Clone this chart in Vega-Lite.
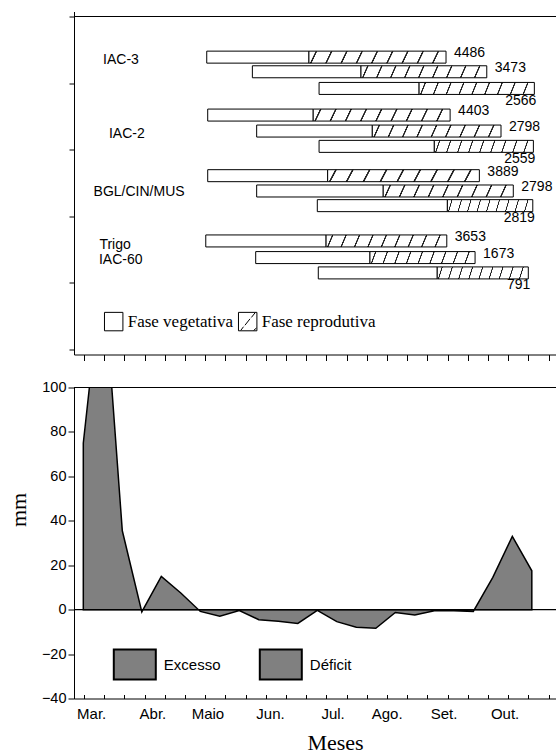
{
  "$schema": "https://vega.github.io/schema/vega-lite/v6.json",
  "background": "white",
  "padding": {"left": 7, "top": 11.5, "right": 0, "bottom": 0},
  "config": {
    "view": {"stroke": null},
    "axis": {"grid": false, "domainColor": "black", "tickColor": "black", "labelColor": "black", "titleColor": "black", "labelFont": "Liberation Sans", "titleFont": "Liberation Serif", "titleFontWeight": "normal"}
  },
  "spacing": 33,
  "bounds": "flush",
  "resolve": {"scale": {"shape": "independent", "fill": "independent", "x": "independent", "y": "independent"}, "legend": {"shape": "independent", "fill": "independent"}},
  "vconcat": [
    {
      "width": 482,
      "height": 343,
      "data": {"values": [
        {"cultivar": "IAC-3", "epoca": 1, "fase": "Fase vegetativa", "ini": 7.33, "fim": 12.57, "pos": 4.39, "prod": 4486},
        {"cultivar": "IAC-3", "epoca": 1, "fase": "Fase reprodutiva", "ini": 12.57, "fim": 19.6, "pos": 4.39, "prod": 4486},
        {"cultivar": "IAC-3", "epoca": 2, "fase": "Fase vegetativa", "ini": 9.67, "fim": 15.24, "pos": 4.17, "prod": 3473},
        {"cultivar": "IAC-3", "epoca": 2, "fase": "Fase reprodutiva", "ini": 15.24, "fim": 21.69, "pos": 4.17, "prod": 3473},
        {"cultivar": "IAC-3", "epoca": 3, "fase": "Fase vegetativa", "ini": 13.09, "fim": 18.22, "pos": 3.92, "prod": 2566},
        {"cultivar": "IAC-3", "epoca": 3, "fase": "Fase reprodutiva", "ini": 18.22, "fim": 24.13, "pos": 3.92, "prod": 2566},
        {"cultivar": "IAC-2", "epoca": 1, "fase": "Fase vegetativa", "ini": 7.38, "fim": 12.79, "pos": 3.52, "prod": 4403},
        {"cultivar": "IAC-2", "epoca": 1, "fase": "Fase reprodutiva", "ini": 12.79, "fim": 19.81, "pos": 3.52, "prod": 4403},
        {"cultivar": "IAC-2", "epoca": 2, "fase": "Fase vegetativa", "ini": 9.89, "fim": 15.82, "pos": 3.28, "prod": 2798},
        {"cultivar": "IAC-2", "epoca": 2, "fase": "Fase reprodutiva", "ini": 15.82, "fim": 22.42, "pos": 3.28, "prod": 2798},
        {"cultivar": "IAC-2", "epoca": 3, "fase": "Fase vegetativa", "ini": 13.09, "fim": 19.0, "pos": 3.05, "prod": 2559},
        {"cultivar": "IAC-2", "epoca": 3, "fase": "Fase reprodutiva", "ini": 19.0, "fim": 24.08, "pos": 3.05, "prod": 2559},
        {"cultivar": "BGL/CIN/MUS", "epoca": 1, "fase": "Fase vegetativa", "ini": 7.38, "fim": 13.53, "pos": 2.61, "prod": 3889},
        {"cultivar": "BGL/CIN/MUS", "epoca": 1, "fase": "Fase reprodutiva", "ini": 13.53, "fim": 21.31, "pos": 2.61, "prod": 3889},
        {"cultivar": "BGL/CIN/MUS", "epoca": 2, "fase": "Fase vegetativa", "ini": 9.89, "fim": 16.38, "pos": 2.38, "prod": 2798},
        {"cultivar": "BGL/CIN/MUS", "epoca": 2, "fase": "Fase reprodutiva", "ini": 16.38, "fim": 23.05, "pos": 2.38, "prod": 2798},
        {"cultivar": "BGL/CIN/MUS", "epoca": 3, "fase": "Fase vegetativa", "ini": 13.0, "fim": 19.67, "pos": 2.16, "prod": 2819},
        {"cultivar": "BGL/CIN/MUS", "epoca": 3, "fase": "Fase reprodutiva", "ini": 19.67, "fim": 24.05, "pos": 2.16, "prod": 2819},
        {"cultivar": "Trigo IAC-60", "epoca": 1, "fase": "Fase vegetativa", "ini": 7.28, "fim": 13.45, "pos": 1.63, "prod": 3653},
        {"cultivar": "Trigo IAC-60", "epoca": 1, "fase": "Fase reprodutiva", "ini": 13.45, "fim": 19.64, "pos": 1.63, "prod": 3653},
        {"cultivar": "Trigo IAC-60", "epoca": 2, "fase": "Fase vegetativa", "ini": 9.84, "fim": 15.7, "pos": 1.38, "prod": 1673},
        {"cultivar": "Trigo IAC-60", "epoca": 2, "fase": "Fase reprodutiva", "ini": 15.7, "fim": 21.09, "pos": 1.38, "prod": 1673},
        {"cultivar": "Trigo IAC-60", "epoca": 3, "fase": "Fase vegetativa", "ini": 13.05, "fim": 19.15, "pos": 1.15, "prod": 791},
        {"cultivar": "Trigo IAC-60", "epoca": 3, "fase": "Fase reprodutiva", "ini": 19.15, "fim": 23.82, "pos": 1.15, "prod": 791}
      ]},
      "layer": [
        {
          "data": {"values": [
            {"rotulo": "IAC-3", "lx": 2.93, "ly": 4.35},
            {"rotulo": "IAC-2", "lx": 3.23, "ly": 3.23},
            {"rotulo": "BGL/CIN/MUS", "lx": 3.86, "ly": 2.36},
            {"rotulo": "Trigo", "lx": 2.63, "ly": 1.57},
            {"rotulo": "IAC-60", "lx": 2.92, "ly": 1.34}
          ]},
          "mark": {"type": "text", "align": "center", "baseline": "middle", "font": "Liberation Sans", "fontSize": 14, "color": "black"},
          "encoding": {
            "x": {"field": "lx", "type": "quantitative", "scale": {"domain": [0.523, 25.24], "nice": false, "zero": false},
              "axis": {"values": [1.036, 2.072, 3.108, 4.144, 5.18, 6.216, 7.252, 8.288, 9.324, 10.36, 11.396, 12.432, 13.468, 14.504, 15.54, 16.576, 17.612, 18.648, 19.684, 20.72, 21.756, 22.792, 23.828, 24.864], "orient": "bottom", "zindex": 1, "tickCount": 100, "ticks": true, "tickOpacity": 1, "tickWidth": 1, "tickColor": "black", "labels": true, "labelExpr": "''", "labelPadding": 0, "tickSize": 6, "title": null}},
            "y": {"field": "ly", "type": "quantitative", "scale": {"domain": [0, 5], "nice": false, "zero": false},
              "axis": {"values": [0, 1, 2, 3, 4, 5], "tickCount": 100, "labels": false, "tickSize": 5, "title": null}},
            "text": {"field": "rotulo", "type": "nominal"}
          }
        },
        {
          "transform": [{"filter": "datum.fase === 'Fase vegetativa'"}],
          "mark": {"type": "bar", "size": 12, "stroke": "black", "strokeWidth": 1, "fill": "white"},
          "encoding": {
            "x": {"field": "ini", "type": "quantitative"},
            "x2": {"field": "fim"},
            "y": {"field": "pos", "type": "quantitative"}
          }
        },
        {
          "transform": [{"filter": "datum.fase === 'Fase reprodutiva'"}],
          "mark": {"type": "bar", "size": 12, "stroke": "black", "strokeWidth": 1,
            "fill": {"gradient": "linear", "x1": 0, "y1": 0, "x2": 1, "y2": 0.042, "stops": [
                {"offset": 0, "color": "white"},
                {"offset": 0.047, "color": "white"}, {"offset": 0.051, "color": "#222"}, {"offset": 0.059, "color": "#222"}, {"offset": 0.063, "color": "white"},
                {"offset": 0.158, "color": "white"}, {"offset": 0.162, "color": "#222"}, {"offset": 0.170, "color": "#222"}, {"offset": 0.174, "color": "white"},
                {"offset": 0.269, "color": "white"}, {"offset": 0.273, "color": "#222"}, {"offset": 0.281, "color": "#222"}, {"offset": 0.285, "color": "white"},
                {"offset": 0.380, "color": "white"}, {"offset": 0.384, "color": "#222"}, {"offset": 0.392, "color": "#222"}, {"offset": 0.396, "color": "white"},
                {"offset": 0.491, "color": "white"}, {"offset": 0.495, "color": "#222"}, {"offset": 0.503, "color": "#222"}, {"offset": 0.507, "color": "white"},
                {"offset": 0.602, "color": "white"}, {"offset": 0.606, "color": "#222"}, {"offset": 0.614, "color": "#222"}, {"offset": 0.618, "color": "white"},
                {"offset": 0.713, "color": "white"}, {"offset": 0.717, "color": "#222"}, {"offset": 0.725, "color": "#222"}, {"offset": 0.729, "color": "white"},
                {"offset": 0.824, "color": "white"}, {"offset": 0.828, "color": "#222"}, {"offset": 0.836, "color": "#222"}, {"offset": 0.840, "color": "white"},
                {"offset": 0.935, "color": "white"}, {"offset": 0.939, "color": "#222"}, {"offset": 0.947, "color": "#222"}, {"offset": 0.951, "color": "white"},
                {"offset": 1, "color": "white"}]}},
          "encoding": {
            "x": {"field": "ini", "type": "quantitative"},
            "x2": {"field": "fim"},
            "y": {"field": "pos", "type": "quantitative"}
          }
        },
        {
          "mark": {"type": "point", "opacity": 0},
          "encoding": {
            "x": {"field": "ini", "type": "quantitative"},
            "y": {"field": "pos", "type": "quantitative"},
            "shape": {"field": "fase", "type": "nominal",
              "scale": {"domain": ["Fase vegetativa", "Fase reprodutiva"], "range": ["M-1,-1H1V1H-1Z", "M-1,-1H1V1H-1Z M-0.75,0.95L-0.45,0.55 M-0.3,0.4L0.25,-0.3 M0.4,-0.45L0.8,-0.95 M0.65,0.95L0.95,0.7"]},
              "legend": {"orient": "none", "legendX": 29.7, "legendY": 299.7, "direction": "horizontal", "columns": 2, "columnPadding": 2, "title": null, "padding": 0,
                "symbolSize": 340, "symbolStrokeColor": "black", "symbolFillColor": "white", "symbolStrokeWidth": 1, "symbolOpacity": 1,
                "labelFont": "Liberation Serif", "labelFontSize": 17, "labelColor": "black", "labelOffset": 4, "labelLimit": 0}}
          }
        },
        {
          "transform": [{"filter": "datum.fase === 'Fase reprodutiva' && datum.epoca < 3"}],
          "mark": {"type": "text", "align": "left", "baseline": "middle", "dx": 8, "dy": -4, "font": "Liberation Sans", "fontSize": 14, "color": "black"},
          "encoding": {
            "x": {"field": "fim", "type": "quantitative"},
            "y": {"field": "pos", "type": "quantitative"},
            "text": {"field": "prod", "type": "nominal"}
          }
        },
        {
          "transform": [{"filter": "datum.fase === 'Fase reprodutiva' && datum.epoca == 3"}],
          "mark": {"type": "text", "align": "right", "baseline": "middle", "dx": 2, "dy": 12.5, "font": "Liberation Sans", "fontSize": 14, "color": "black"},
          "encoding": {
            "x": {"field": "fim", "type": "quantitative"},
            "y": {"field": "pos", "type": "quantitative"},
            "text": {"field": "prod", "type": "nominal"}
          }
        },
        {
          "data": {"values": [{}]},
          "mark": {"type": "rule", "color": "black", "strokeWidth": 1},
          "encoding": {"y": {"datum": 5}}
        }
      ]
    },
    {
      "width": 482,
      "height": 311,
      "data": {"values": [
        {"d": 1, "mm": 75, "tipo": "Excesso"},
        {"d": 2, "mm": 155, "tipo": "Excesso"},
        {"d": 3, "mm": 35.5, "tipo": "Excesso"},
        {"d": 4, "mm": -1, "tipo": "Déficit"},
        {"d": 5, "mm": 15, "tipo": "Excesso"},
        {"d": 6, "mm": 7.5, "tipo": "Excesso"},
        {"d": 7, "mm": -0.8, "tipo": "Déficit"},
        {"d": 8, "mm": -3, "tipo": "Déficit"},
        {"d": 9, "mm": -0.4, "tipo": "Déficit"},
        {"d": 10, "mm": -4.5, "tipo": "Déficit"},
        {"d": 11, "mm": -5.2, "tipo": "Déficit"},
        {"d": 12, "mm": -6.2, "tipo": "Déficit"},
        {"d": 13, "mm": -0.3, "tipo": "Déficit"},
        {"d": 14, "mm": -5.4, "tipo": "Déficit"},
        {"d": 15, "mm": -7.9, "tipo": "Déficit"},
        {"d": 16, "mm": -8.4, "tipo": "Déficit"},
        {"d": 17, "mm": -1.3, "tipo": "Déficit"},
        {"d": 18, "mm": -2.4, "tipo": "Déficit"},
        {"d": 19, "mm": -0.5, "tipo": "Déficit"},
        {"d": 20, "mm": -0.5, "tipo": "Déficit"},
        {"d": 21, "mm": -0.8, "tipo": "Déficit"},
        {"d": 22, "mm": 14.5, "tipo": "Excesso"},
        {"d": 23, "mm": 33, "tipo": "Excesso"},
        {"d": 24, "mm": 17.5, "tipo": "Excesso"}
      ]},
      "layer": [
        {
          "mark": {"type": "area", "fill": "#808080", "stroke": "black", "strokeWidth": 1.5, "strokeJoin": "miter", "clip": true},
          "encoding": {
            "x": {"field": "d", "type": "quantitative", "scale": {"domain": [0.523, 25.24], "nice": false, "zero": false},
              "axis": {
                "values": [1.036, 2.072, 3.108, 4.144, 5.18, 6.216, 7.252, 8.288, 9.324, 10.36, 11.396, 12.432, 13.468, 14.504, 15.54, 16.576, 17.612, 18.648, 19.684, 20.72, 21.756, 22.792, 23.828, 24.864],
                "zindex": 1, "tickCount": 100, "ticks": true, "tickOpacity": 1, "tickWidth": 1, "tickColor": "black", "tickSize": -4, "labels": false,
                "title": "Meses", "titleFontSize": 22, "titleX": 261, "titleY": 51, "titleBaseline": "alphabetic", "titleAlign": "center"
              }},
            "y": {"field": "mm", "type": "quantitative", "stack": null, "scale": {"domain": [-40, 100], "nice": false},
              "axis": {
                "values": [-40, -20, 0, 20, 40, 60, 80, 100], "tickCount": 100, "tickSize": 6, "labelFontSize": 14.5, "labelPadding": 2,
                "title": "mm", "titleFontSize": 22, "titleAngle": -90, "titleX": -49, "titleY": 122, "titleBaseline": "alphabetic", "titleAlign": "center"
              }}
          }
        },
        {
          "mark": {"type": "point", "opacity": 0, "filled": true},
          "encoding": {
            "x": {"field": "d", "type": "quantitative"},
            "y": {"field": "mm", "type": "quantitative"},
            "fill": {"field": "tipo", "type": "nominal",
              "scale": {"domain": ["Excesso", "Déficit"], "range": ["#808080", "#808080"]},
              "legend": {"orient": "none", "legendX": 44.8, "legendY": 261, "direction": "horizontal", "columns": 2, "columnPadding": 35, "title": null, "padding": 0,
                "symbolType": "M-1.4,-1H1.4V1H-1.4Z", "symbolSize": 900, "symbolOpacity": 1, "symbolStrokeColor": "black", "symbolStrokeWidth": 2,
                "labelOffset": 13, "labelFont": "Liberation Sans", "labelFontSize": 15, "labelColor": "black", "labelLimit": 0}}
          }
        },
        {
          "data": {"values": [
            {"mes": "Mar.", "centro": 1.43},
            {"mes": "Abr.", "centro": 4.57},
            {"mes": "Maio", "centro": 7.39},
            {"mes": "Jun.", "centro": 10.6},
            {"mes": "Jul.", "centro": 13.81},
            {"mes": "Ago.", "centro": 16.58},
            {"mes": "Set.", "centro": 19.5},
            {"mes": "Out.", "centro": 22.63}
          ]},
          "mark": {"type": "text", "align": "center", "baseline": "alphabetic", "dy": 20, "font": "Liberation Sans", "fontSize": 15, "color": "black"},
          "encoding": {
            "x": {"field": "centro", "type": "quantitative"},
            "y": {"datum": -40},
            "text": {"field": "mes", "type": "nominal"}
          }
        },
        {
          "data": {"values": [{}]},
          "mark": {"type": "rule", "color": "black", "strokeWidth": 1.2},
          "encoding": {"y": {"datum": 0}}
        },
        {
          "data": {"values": [{}]},
          "mark": {"type": "rule", "color": "black", "strokeWidth": 1},
          "encoding": {"y": {"datum": 100}}
        }
      ]
    }
  ]
}
